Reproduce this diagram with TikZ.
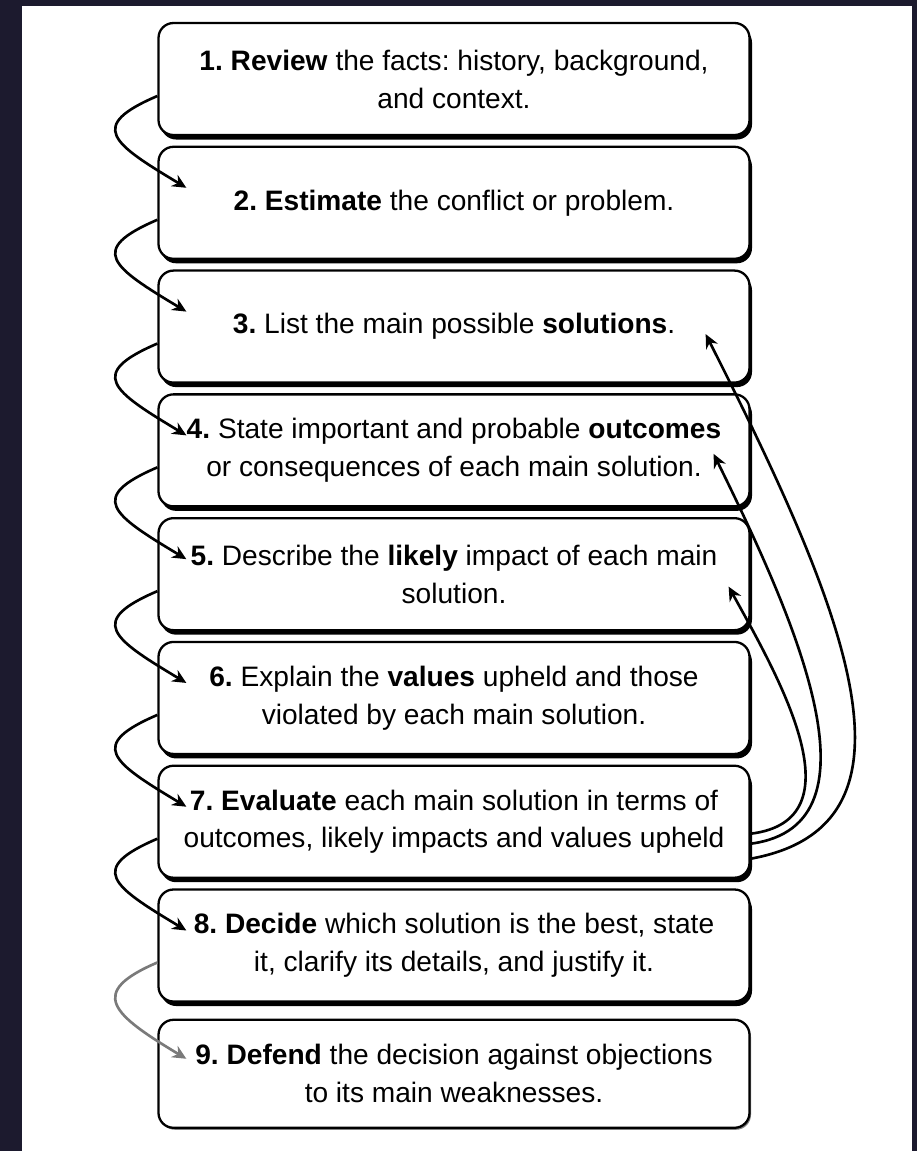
\documentclass[tikz,border=0pt]{standalone}
\usepackage{fontspec}
\setmainfont{Liberation Sans}
\frenchspacing
\usetikzlibrary{positioning,shadows,arrows.meta}
\definecolor{framecol}{HTML}{1C1A2E}
\definecolor{linkgray}{HTML}{7A7A7A}
\tikzset{
  boxbase/.style={draw, line width=1.3pt, rounded corners=0.3cm, fill=white,
    minimum width=11.82cm, minimum height=2.24cm, align=center,
    font=\fontsize{16}{21.6}\selectfont},
  stepbox/.style={boxbase, drop shadow={shadow xshift=0.05cm, shadow yshift=-0.09cm, fill=black, opacity=1}},
  laststep/.style={boxbase, minimum height=2.16cm, drop shadow={shadow xshift=0.03cm, shadow yshift=-0.04cm, fill=gray, opacity=1}},
  link/.style={line width=1.5pt, -{Stealth[length=2.8mm,width=2.6mm]}}
}
\begin{document}
\begin{tikzpicture}
    \fill[framecol] (0,0) rectangle (18.34,-23.02);
    \fill[white] (0.44,-0.12) rectangle (18.24,-23.02);
    \useasboundingbox (0,0) rectangle (18.34,-23.02);

    \node[stepbox] (b1) at (9.08,-1.58) {\textbf{1. Review} the facts: history, background,\\ and context.};
    \node[stepbox, below=0.19cm of b1] (b2) {\textbf{2. Estimate} the conflict or problem.};
    \node[stepbox, below=0.19cm of b2] (b3) {\textbf{3.} List the main possible \textbf{solutions}.};
    \node[stepbox, below=0.19cm of b3] (b4) {\textbf{4.} State important and probable \textbf{outcomes}\\ or consequences of each main solution.};
    \node[stepbox, below=0.19cm of b4] (b5) {\textbf{5.} Describe the \textbf{likely} impact of each main\\ solution.};
    \node[stepbox, below=0.19cm of b5] (b6) {\textbf{6.} Explain the \textbf{values} upheld and those\\ violated by each main solution.};
    \node[stepbox, below=0.19cm of b6] (b7) {\textbf{7. Evaluate} each main solution in terms of\\ outcomes, likely impacts and values upheld};
    \node[stepbox, below=0.19cm of b7] (b8) {\textbf{8. Decide} which solution is the best, state\\ it, clarify its details, and justify it.};
    \node[laststep, below=0.32cm of b8] (b9) {\textbf{9. Defend} the decision against objections\\ to its main weaknesses.};

    % step to step, down the left side
    \foreach \i/\j in {1/2,2/3,3/4,4/5,5/6,6/7,7/8}
        \draw[link] ([yshift=-0.34cm]b\i.west) .. controls +(-1.4,-0.6) and +(-1.5,0.9) .. ([xshift=0.58cm,yshift=0.3cm]b\j.west);
    \draw[link, linkgray] ([yshift=-0.34cm]b8.west) .. controls +(-1.4,-0.6) and +(-1.5,0.9) .. ([xshift=0.58cm,yshift=0.3cm]b9.west);

    % back from step 7
    \draw[link] ([yshift=-0.24cm]b7.east) .. controls +(2.19,0.27) and +(1.03,-1.86) .. ([xshift=-0.44cm,yshift=-0.25cm]b5.east);
    \draw[link] ([yshift=-0.44cm]b7.east) .. controls +(2.79,0.37) and +(1.53,-3.12) .. ([xshift=-0.74cm,yshift=-0.07cm]b4.east);
    \draw[link] ([yshift=-0.74cm]b7.east) .. controls +(3.69,0.67) and +(2.79,-5.51) .. ([xshift=-0.9cm,yshift=-0.15cm]b3.east);
\end{tikzpicture}
\end{document}
